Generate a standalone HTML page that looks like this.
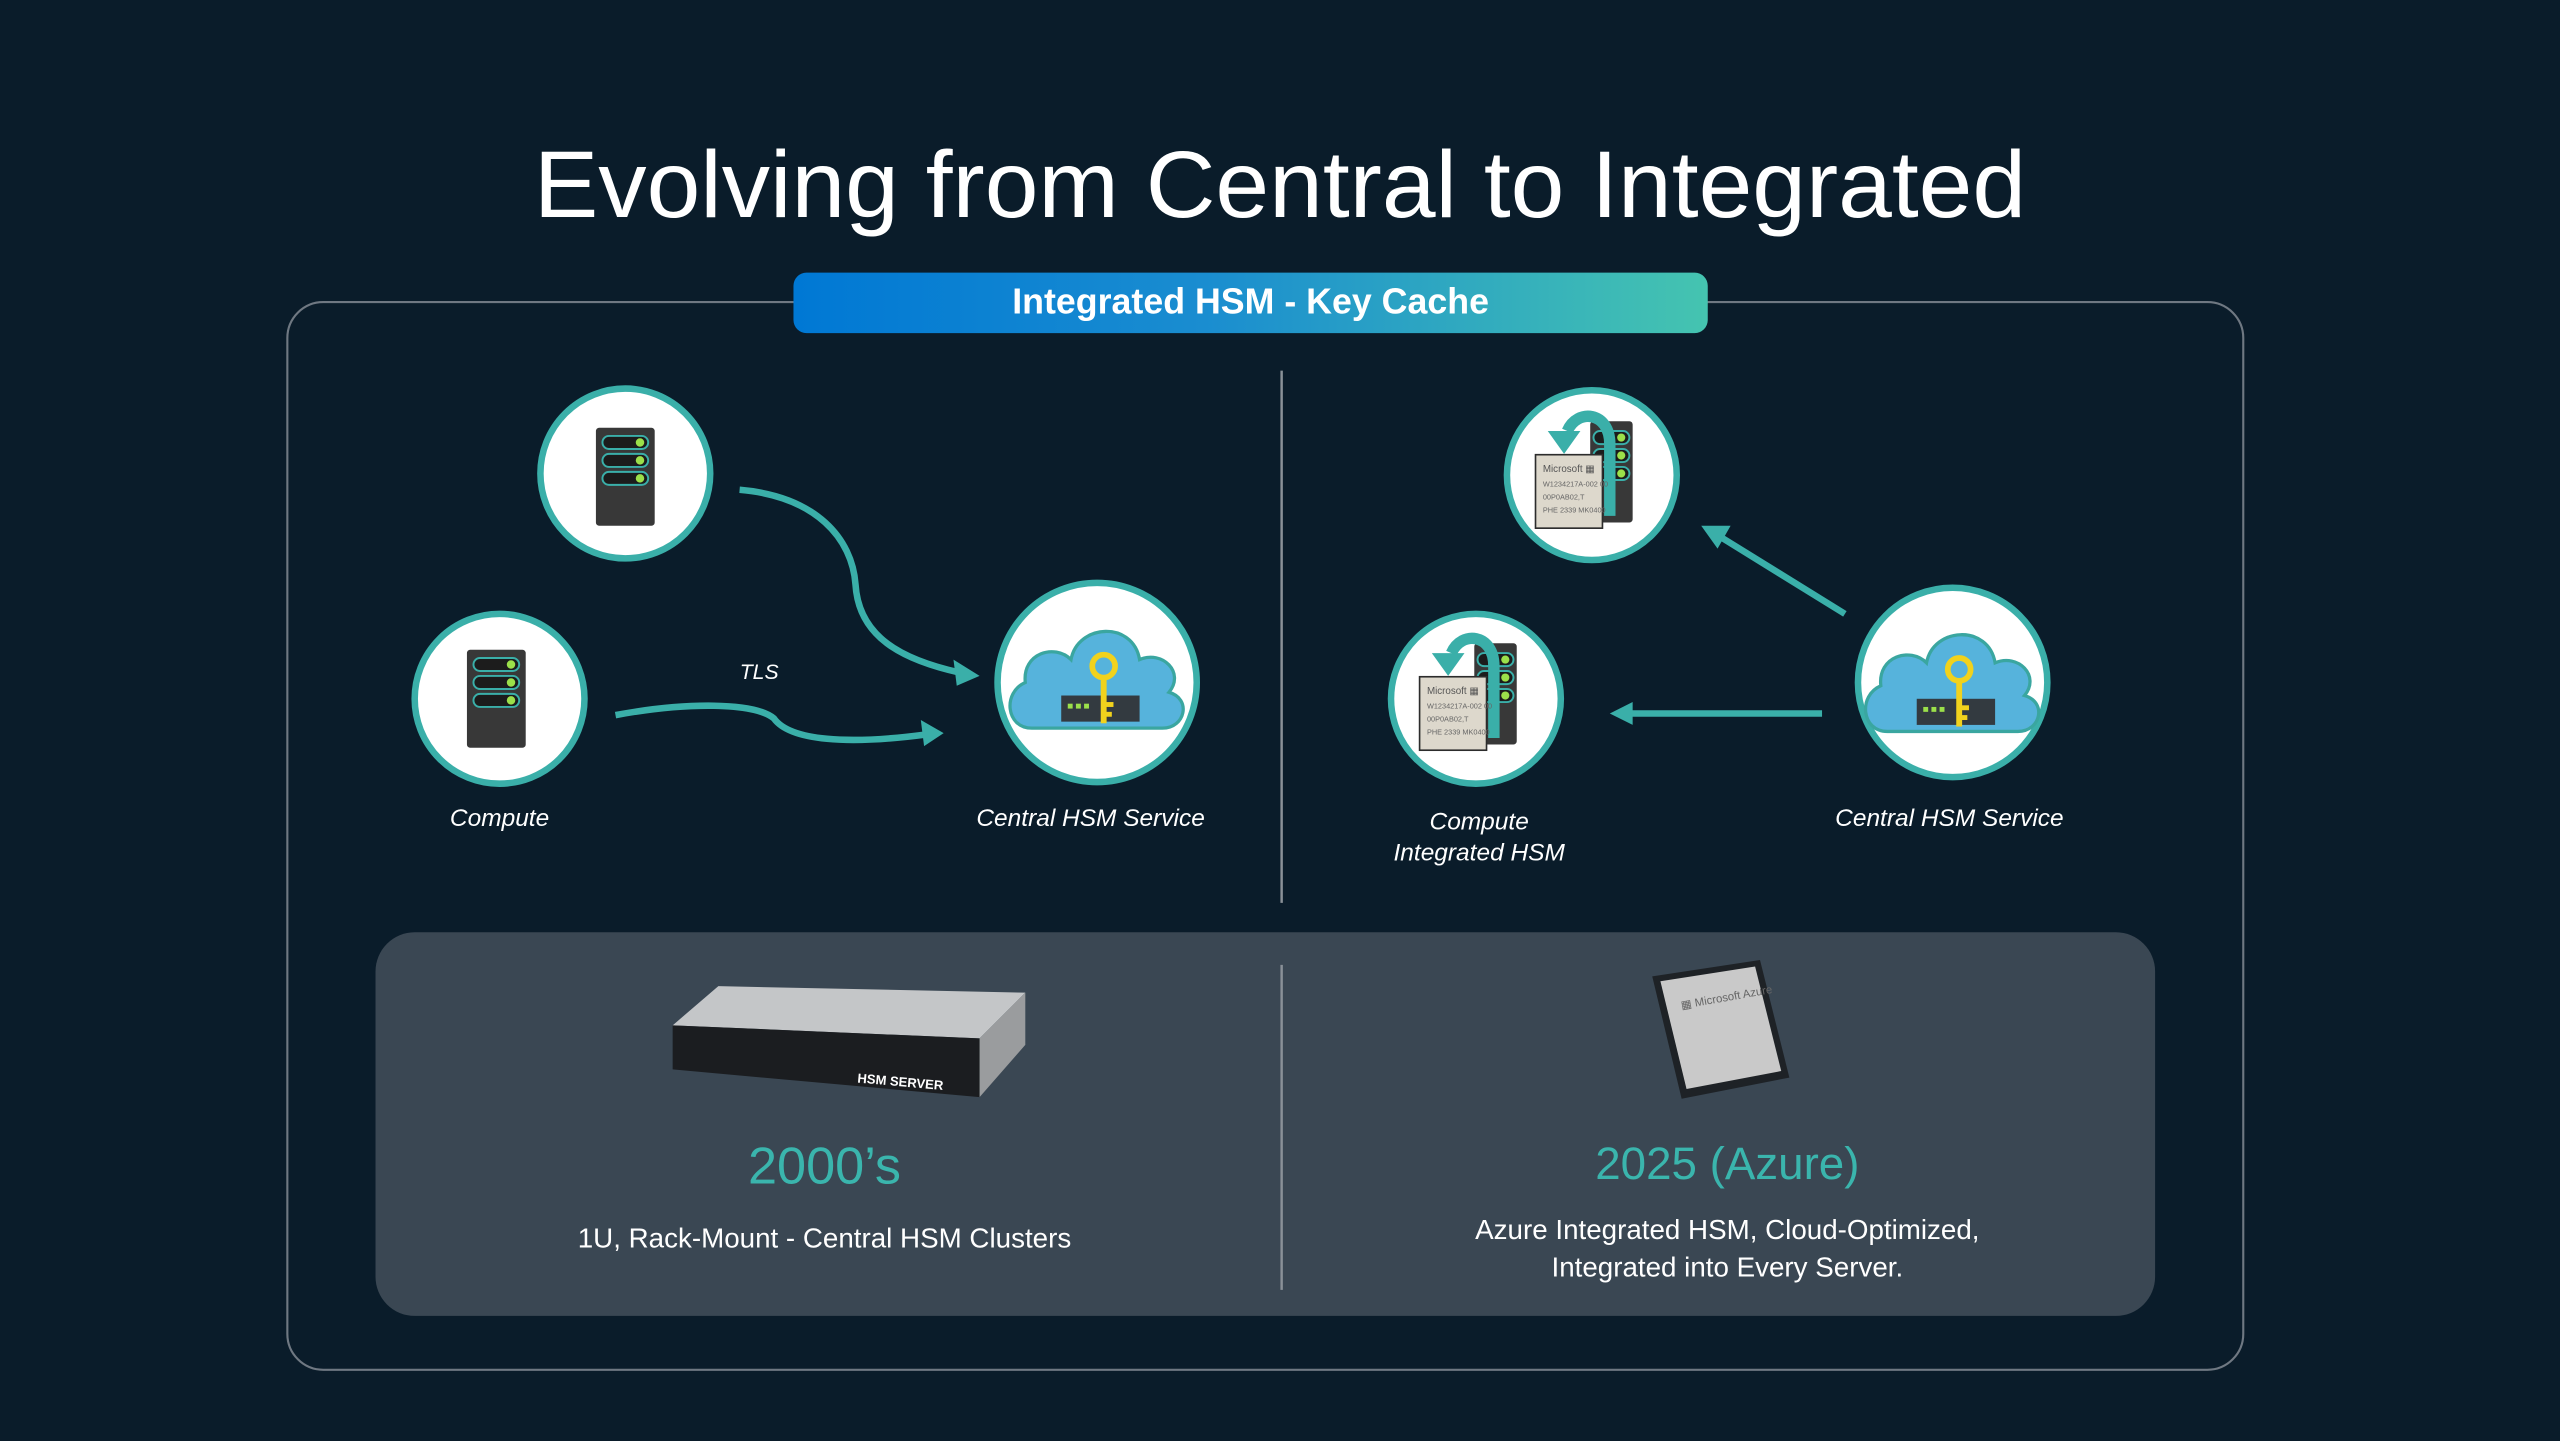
<!DOCTYPE html>
<html><head><meta charset="utf-8"><style>
html,body{margin:0;padding:0;background:#0a1c2a;}
svg{display:block;}
text{font-family:"Liberation Sans",sans-serif;}
</style></head><body>
<svg width="2560" height="1441" viewBox="0 0 1568 882.6" preserveAspectRatio="none" xmlns="http://www.w3.org/2000/svg">
<defs>
<linearGradient id="bg" x1="0" x2="1" y1="0" y2="0">
<stop offset="0" stop-color="#0078d4"/><stop offset="0.45" stop-color="#1a8dd0"/><stop offset="1" stop-color="#45c4b0"/>
</linearGradient>
<g id="tower">
<rect x="-18" y="-30" width="36" height="60" rx="2" fill="#383838"/>
<rect x="-14" y="-25" width="28" height="8" rx="4" fill="#1c1c1c" stroke="#3aafa9" stroke-width="1.2"/>
<rect x="-14" y="-14" width="28" height="8" rx="4" fill="#1c1c1c" stroke="#3aafa9" stroke-width="1.2"/>
<rect x="-14" y="-3" width="28" height="8" rx="4" fill="#1c1c1c" stroke="#3aafa9" stroke-width="1.2"/>
<circle cx="9" cy="-21" r="2.6" fill="#9be04a"/><circle cx="9" cy="-10" r="2.6" fill="#9be04a"/><circle cx="9" cy="1" r="2.6" fill="#9be04a"/>
</g>
<g id="cloud">
<path d="M-40,28 C-56,28 -58,6 -44,0 C-46,-18 -26,-24 -16,-14 C-12,-36 22,-38 26,-14 C40,-20 54,-6 44,6 C58,10 54,28 40,28 Z" fill="#56b3dc" stroke="#3aa6a0" stroke-width="2"/>
<rect x="-22" y="8" width="48" height="16" fill="#333a40"/>
<rect x="-18" y="13" width="3" height="3" fill="#9be04a"/><rect x="-13" y="13" width="3" height="3" fill="#9be04a"/><rect x="-8" y="13" width="3" height="3" fill="#9be04a"/>
<circle cx="4" cy="-10" r="7" fill="none" stroke="#f1d21d" stroke-width="3.5"/>
<rect x="2.2" y="-3" width="3.6" height="28" fill="#f1d21d"/>
<rect x="5" y="12" width="5" height="3" fill="#f1d21d"/><rect x="5" y="18" width="4" height="3" fill="#f1d21d"/>
</g>
<g id="ihsm">
<rect x="2" y="-34" width="26" height="62" rx="2" fill="#383838"/>
<rect x="4" y="-28" width="22" height="8" rx="4" fill="#1c1c1c" stroke="#3aafa9" stroke-width="1.2"/>
<rect x="4" y="-17" width="22" height="8" rx="4" fill="#1c1c1c" stroke="#3aafa9" stroke-width="1.2"/>
<rect x="4" y="-6" width="22" height="8" rx="4" fill="#1c1c1c" stroke="#3aafa9" stroke-width="1.2"/>
<circle cx="21" cy="-24" r="2.5" fill="#9be04a"/><circle cx="21" cy="-13" r="2.5" fill="#9be04a"/><circle cx="21" cy="-2" r="2.5" fill="#9be04a"/>
<path d="M14,24 L14,-20 C14,-40 -6,-42 -12,-28" fill="none" stroke="#3aafa9" stroke-width="7"/>
<polygon points="-24,-28 -4,-28 -14,-14" fill="#3aafa9"/>
<rect x="-32" y="-14" width="42" height="46" fill="#2c2c2c"/>
<rect x="-31" y="-13" width="40" height="44" fill="#ddd8cc"/>
<text x="-27" y="-3" font-size="6" fill="#555">Microsoft ▦</text>
<text x="-27" y="6" font-size="4.5" fill="#666">W1234217A-002 00</text>
<text x="-27" y="14" font-size="4.5" fill="#666">00P0AB02,T</text>
<text x="-27" y="22" font-size="4.5" fill="#666">PHE 2339 MK0400</text>
</g>
</defs>
<rect width="1568" height="883" fill="#0a1c2a"/>
<text x="784" y="133" font-size="58" fill="#fff" text-anchor="middle" textLength="914" lengthAdjust="spacingAndGlyphs">Evolving from Central to Integrated</text>
<rect x="176" y="185" width="1198" height="654" rx="22" fill="none" stroke="#6f7882" stroke-width="1.3"/>
<rect x="486" y="167" width="560" height="37" rx="8" fill="url(#bg)"/>
<text x="766" y="192" font-size="22" font-weight="bold" fill="#fff" text-anchor="middle" textLength="292" lengthAdjust="spacingAndGlyphs">Integrated HSM - Key Cache</text>
<line x1="785" y1="227" x2="785" y2="553" stroke="#8a9198" stroke-width="1.5"/>
<!-- left circles -->
<circle cx="383" cy="290" r="52" fill="#fff" stroke="#3aafa9" stroke-width="4"/>
<use href="#tower" x="383" y="292"/>
<circle cx="306" cy="428" r="52" fill="#fff" stroke="#3aafa9" stroke-width="4"/>
<use href="#tower" x="304" y="428"/>
<circle cx="672" cy="418" r="61" fill="#fff" stroke="#3aafa9" stroke-width="4"/>
<use href="#cloud" x="672" y="418"/>
<path d="M453,300 C500,304 522,330 524,358 C526,390 552,404 588,412" fill="none" stroke="#3aafa9" stroke-width="4"/>
<polygon points="600,414 584,404 586,420" fill="#3aafa9"/>
<path d="M377,438 C420,430 462,430 474,440 C484,454 520,456 566,450" fill="none" stroke="#3aafa9" stroke-width="4"/>
<polygon points="578,449 564,441 566,457" fill="#3aafa9"/>
<text x="465" y="416" font-size="13" font-style="italic" fill="#fff" text-anchor="middle">TLS</text>
<text x="306" y="506" font-size="15" font-style="italic" fill="#fff" text-anchor="middle">Compute</text>
<text x="668" y="506" font-size="15" font-style="italic" fill="#fff" text-anchor="middle">Central HSM Service</text>
<!-- right circles -->
<circle cx="975" cy="291" r="52" fill="#fff" stroke="#3aafa9" stroke-width="4"/>
<use href="#ihsm" x="972" y="292"/>
<circle cx="904" cy="428" r="52" fill="#fff" stroke="#3aafa9" stroke-width="4"/>
<use href="#ihsm" x="901" y="428"/>
<circle cx="1196" cy="418" r="58" fill="#fff" stroke="#3aafa9" stroke-width="4"/>
<use href="#cloud" x="1196" y="420"/>
<line x1="1130" y1="376" x2="1054" y2="329" stroke="#3aafa9" stroke-width="4"/>
<polygon points="1042,322 1060,322 1052,336" fill="#3aafa9"/>
<line x1="1116" y1="437" x2="998" y2="437" stroke="#3aafa9" stroke-width="4"/>
<polygon points="986,437 1000,430 1000,444" fill="#3aafa9"/>
<text x="906" y="508" font-size="15" font-style="italic" fill="#fff" text-anchor="middle">Compute</text>
<text x="906" y="527" font-size="15" font-style="italic" fill="#fff" text-anchor="middle">Integrated HSM</text>
<text x="1194" y="506" font-size="15" font-style="italic" fill="#fff" text-anchor="middle">Central HSM Service</text>
<!-- bottom panel -->
<rect x="230" y="571" width="1090" height="235" rx="24" fill="#3a4753"/>
<line x1="785" y1="591" x2="785" y2="790" stroke="#8a9198" stroke-width="1.5"/>
<polygon points="440,604 628,608 600,636 412,628" fill="#c4c6c8"/>
<polygon points="412,628 600,636 600,672 412,655" fill="#1b1d20"/>
<polygon points="600,636 628,608 628,640 600,672" fill="#9a9c9e"/>
<text x="525" y="663" font-size="8" font-weight="bold" fill="#fff" transform="rotate(5 525 663)">HSM SERVER</text>
<polygon points="1012,598 1078,588 1096,660 1030,673" fill="#1e2226"/>
<polygon points="1017,601 1075,592 1091,656 1033,667" fill="#c9c9c9"/>
<text x="1030" y="618" font-size="7" fill="#666" transform="rotate(-10 1030 618)">▦ Microsoft Azure</text>
<text x="505" y="725" font-size="32" fill="#3ab5ad" text-anchor="middle">2000’s</text>
<text x="505" y="764" font-size="17" fill="#fff" text-anchor="middle">1U, Rack-Mount - Central HSM Clusters</text>
<text x="1058" y="722" font-size="28" fill="#3ab5ad" text-anchor="middle">2025 (Azure)</text>
<text x="1058" y="759" font-size="17" fill="#fff" text-anchor="middle">Azure Integrated HSM, Cloud-Optimized,</text>
<text x="1058" y="782" font-size="17" fill="#fff" text-anchor="middle">Integrated into Every Server.</text>
</svg>
</body></html>
